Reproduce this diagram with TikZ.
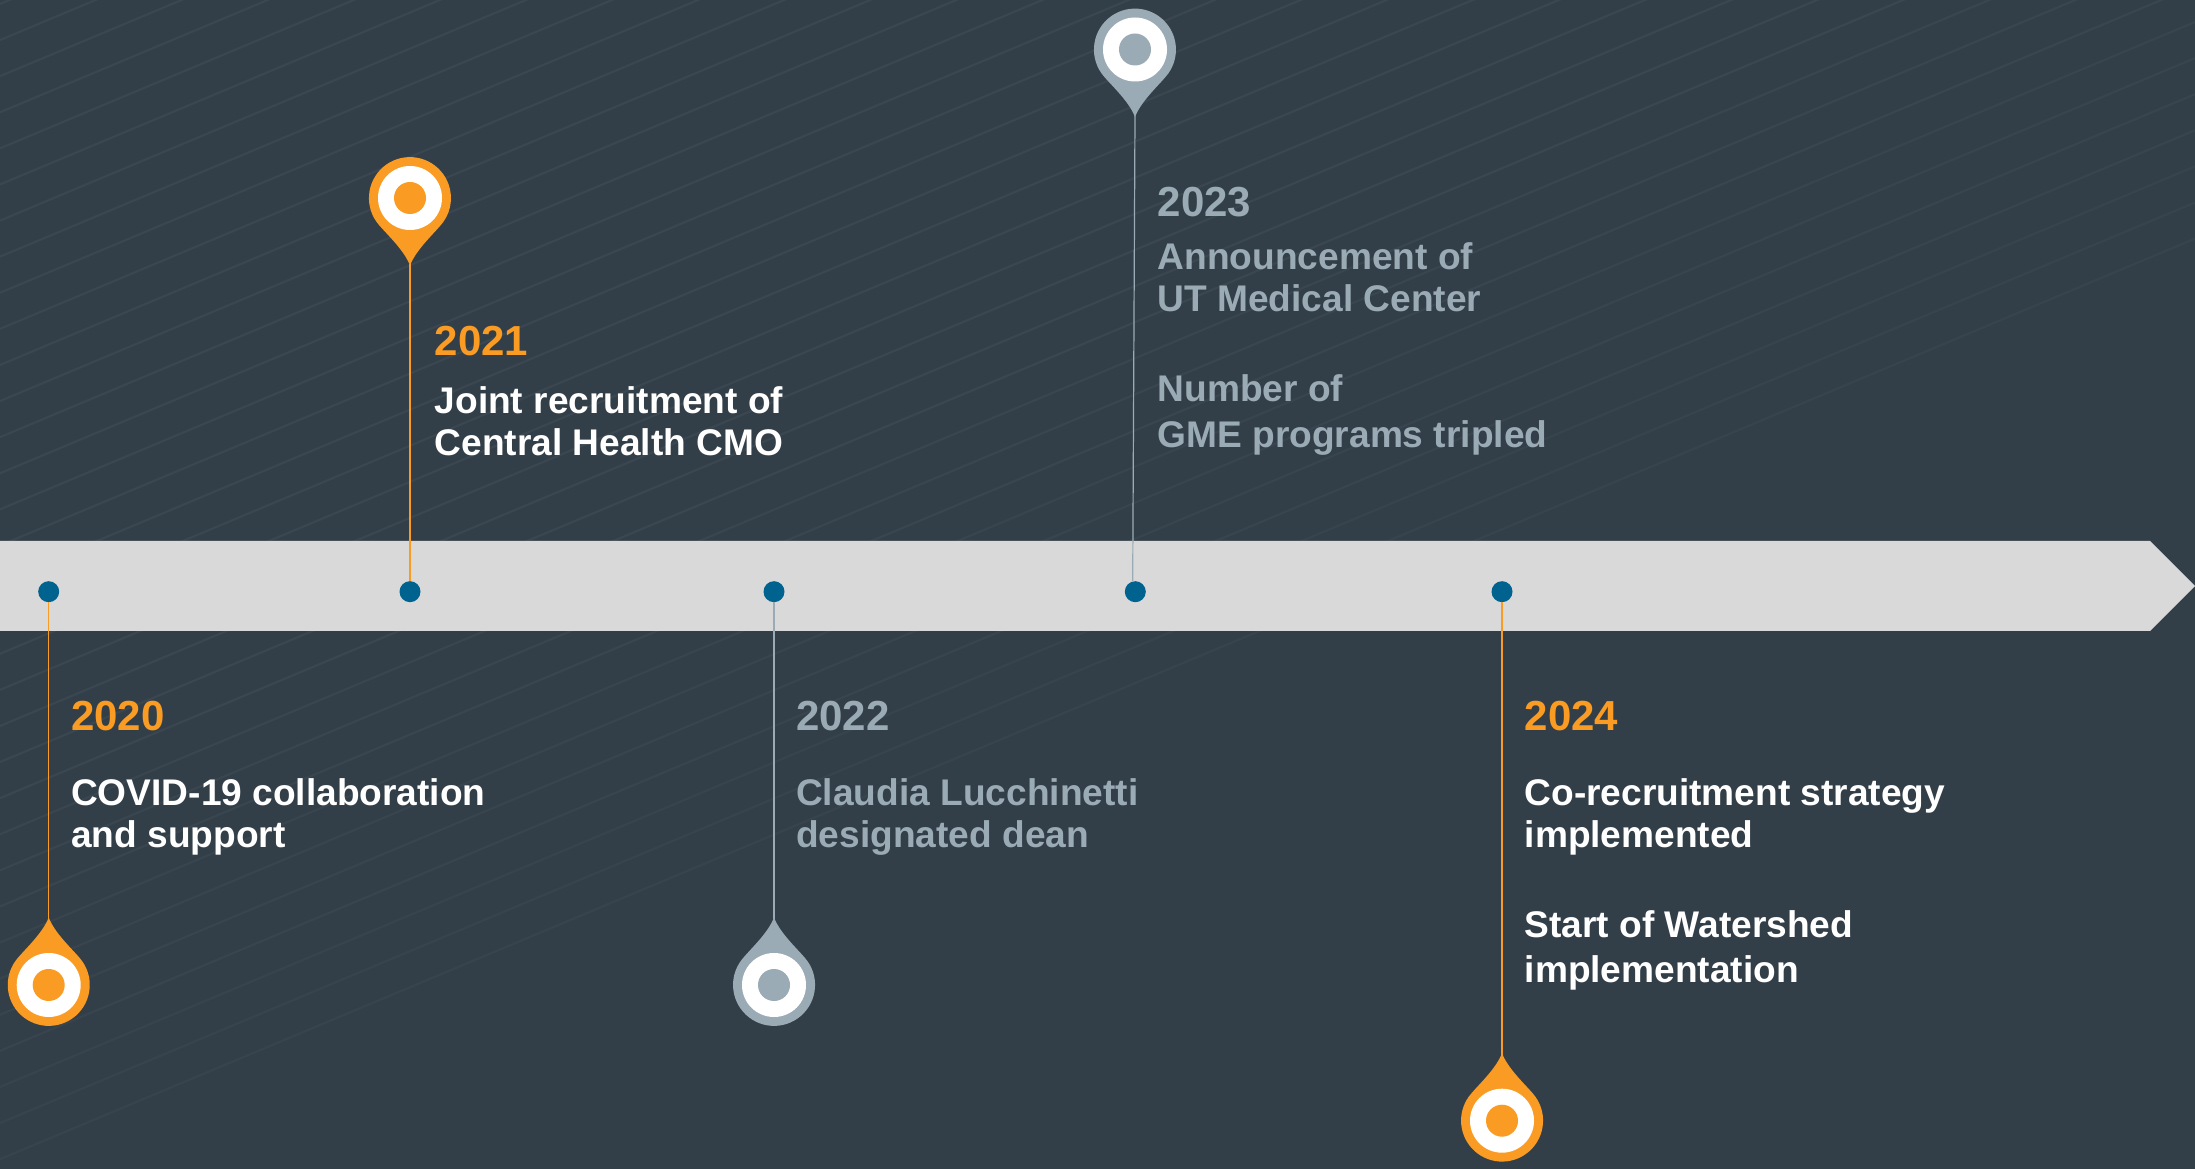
\documentclass[tikz,border=0pt]{standalone}
\usepackage{fontspec}
\setmainfont{Liberation Sans}

\definecolor{slate}{HTML}{333F48}
\definecolor{stripe}{HTML}{3A4650}
\definecolor{barfill}{HTML}{D9D9D9}
\definecolor{dotblue}{HTML}{00628F}
\definecolor{amber}{HTML}{FA9B23}
\definecolor{steel}{HTML}{9BABB5}

\tikzset{
    yeartext/.style={font=\bfseries\fontsize{42}{46}\selectfont, anchor=base west, inner sep=0pt},
    bodytext/.style={font=\bfseries\fontsize{37.1}{42.3}\selectfont, anchor=base west, inner sep=0pt, align=left},
    stemline/.style={line width=1.2pt},
    yeardot/.style={circle, fill=dotblue, inner sep=0pt, minimum size=21pt},
    pics/droppin/.style={code={
        \fill[#1] (0,-67.5) .. controls (-6,-52) and (-22.5,-37) .. (-31,-27)
            arc[start angle=221, end angle=-41, radius=41]
            .. controls (22.5,-37) and (6,-52) .. (0,-67.5) -- cycle;
        \fill[white] (0,0) circle (32);
        \fill[#1] (0,0) circle (16);
        \coordinate (-tip) at (0,-66);
    }}
}

\begin{document}
\begin{tikzpicture}[x=1pt,y=1pt]
\useasboundingbox (0,0) rectangle (2195,1168);
\fill[slate] (-2,-2) rectangle (2197,1170);

% Faint diagonal stripes
\begin{scope}
\clip (0,0) rectangle (2195,1168);
\foreach \k in {0,...,32} {
    \pgfmathsetmacro{\ya}{1168-(4+36.1*\k)}
    \pgfmathsetmacro{\yb}{\ya+0.4194*2195}
    \pgfmathsetmacro{\fade}{\k<20 ? 100 : 100-3.5*(\k-20)}
    \draw[stripe!\fade!slate, line width=2.2pt] (0,\ya) -- (2195,\yb);
}
\end{scope}

% Arrow bar
\fill[barfill] (-2,627) -- (2150,627) -- (2195,582) -- (2150,537) -- (-2,537) -- cycle;

% Dots, pins and stems
\foreach \yr/\x/\py/\rot/\col in {2020/48.7/183/180/amber, 2021/410/970/0/amber,
    2022/774/183/180/steel, 2024/1502/47.3/180/amber} {
    \node[yeardot] (dot\yr) at (\x,576.3) {};
    \pic[rotate=\rot] (pin\yr) at (\x,\py) {droppin=\col};
    \draw[stemline, \col] (pin\yr-tip) -- (dot\yr);
}
\node[yeardot] (dot2023) at (1135.3,576.3) {};
\pic (pin2023) at (1135,1118.5) {droppin=steel};
\draw[stemline, steel] (pin2023-tip) -- ([xshift=-2.6pt]dot2023.north);

% Labels
\node[yeartext, amber] (year2020) at (71,437) {2020};
\node[bodytext, white] (text2020) at (71,320.6) {COVID-19 collaboration\\and support};

\node[yeartext, amber] (year2021) at (434.5,812) {2021};
\node[bodytext, white] (text2021) at (434.5,712) {Joint recruitment of\\Central Health CMO};

\node[yeartext, steel] (year2022) at (796,437) {2022};
\node[bodytext, steel] (text2022) at (796,320.6) {Claudia Lucchinetti\\designated dean};

\node[yeartext, steel] (year2023) at (1157.5,951) {2023};
\node[bodytext, steel] (text2023a) at (1157.5,856) {Announcement of\\UT Medical Center};
\node[bodytext, steel, font=\bfseries\fontsize{37.1}{46}\selectfont] (text2023b) at (1157.5,720) {Number of\\GME programs tripled};

\node[yeartext, amber] (year2024) at (1524.5,437) {2024};
\node[bodytext, white] (text2024a) at (1524.5,320.6) {Co-recruitment strategy\\implemented};
\node[bodytext, white, font=\bfseries\fontsize{37.1}{45}\selectfont] (text2024b) at (1524.5,185.5) {Start of Watershed\\implementation};
\end{tikzpicture}
\end{document}
